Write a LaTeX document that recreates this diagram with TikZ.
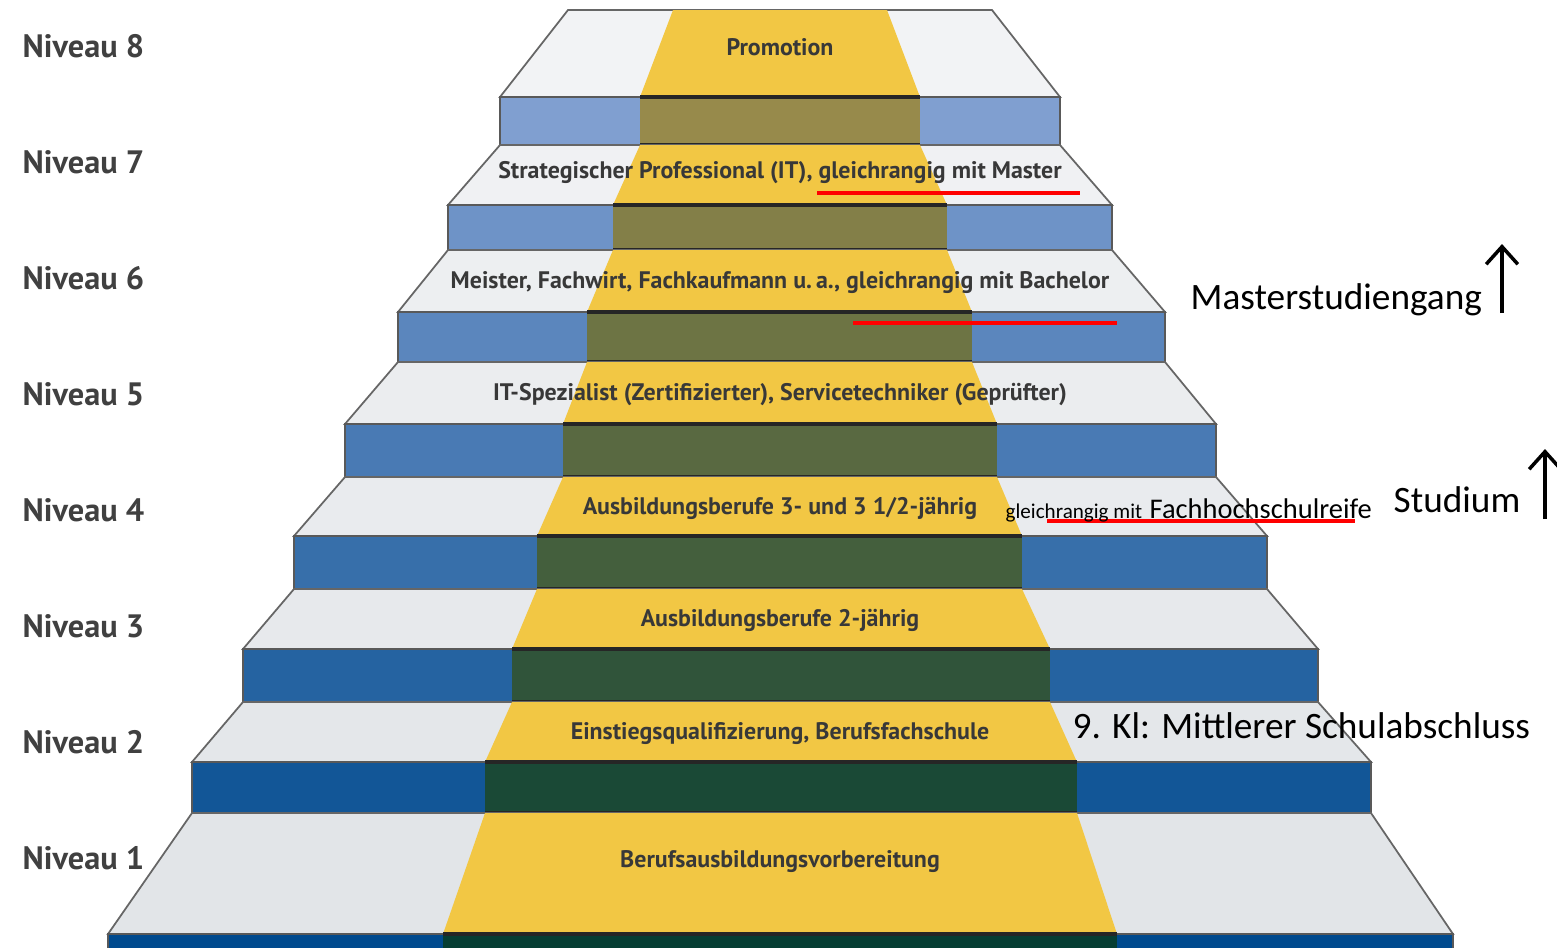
\documentclass[tikz,border=0pt]{standalone}
\usepackage{fontspec}
\usetikzlibrary{arrows.meta}
\newfontfamily\stepfont{PT Sans}
\newfontfamily\notefont{Carlito}
\definecolor{treadtop}{HTML}{F2F3F5}
\definecolor{treadbot}{HTML}{E2E5E8}
\definecolor{bandyellow}{HTML}{F2C744}
\definecolor{bluetop}{HTML}{809FD0}
\definecolor{bluebot}{HTML}{004A8E}
\definecolor{olivetop}{HTML}{978A4B}
\definecolor{olivebot}{HTML}{063E33}
\definecolor{markred}{HTML}{FF0000}

\begin{document}
\begin{tikzpicture}[x=0.01cm,y=-0.01cm]

    \tikzset{
      tread/.style={
        fill=#1,
        draw=black!60,
        line width=0.5pt,
      },
      band/.style={
        fill=bandyellow,
      },
      riser/.style={
        fill=#1,
        draw=black!65,
        line width=0.5pt,
      },
      olive/.style={
        fill=#1,
      },
      oliveedge/.style={
        draw=black!85,
        line width=0.9pt,
      },
      steptext/.style={
        anchor=base,
        inner sep=0pt,
        text=black!78,
        font=\stepfont\bfseries\fontsize{6.8}{8}\selectfont,
      },
      niveau/.style={
        anchor=base west,
        inner sep=0pt,
        text=black!75,
        font=\stepfont\bfseries\fontsize{9.2}{11}\selectfont,
      },
      note/.style={
        anchor=base west,
        inner sep=0pt,
        font=\notefont\fontsize{10.6}{12}\selectfont,
      },
      redline/.style={
        draw=markred,
        line width=1.4pt,
      },
      uparrow/.style={
        draw=black,
        line width=1pt,
        -{Straight Barb[length=5pt,width=9pt]},
      },
    }
    \useasboundingbox (0,0) rectangle (1557,947);
    \clip (0,0) rectangle (1557,947);

	 \filldraw[tread=treadtop] (568,10) -- (992,10) -- (1060,97) -- (500,97) -- cycle;
	 \fill[band] (673,10) -- (887,10) -- (920,97) -- (640,97) -- cycle;
	 \filldraw[riser=bluetop] (500,97) rectangle (1060,145);
	 \fill[olive=olivetop] (640,97) rectangle (920,145);
	 \draw[oliveedge] (640,97) -- (920,97) (640,145) -- (920,145);

	 \filldraw[tread=treadbot!14!treadtop] (500,145) -- (1060,145) -- (1112,205) -- (448,205) -- cycle;
	 \fill[band] (640,145) -- (920,145) -- (947,205) -- (613,205) -- cycle;
	 \filldraw[riser=bluebot!14!bluetop] (448,205) rectangle (1112,250);
	 \fill[olive=olivebot!14!olivetop] (613,205) rectangle (947,250);
	 \draw[oliveedge] (613,205) -- (947,205) (613,250) -- (947,250);

	 \filldraw[tread=treadbot!29!treadtop] (448,250) -- (1112,250) -- (1165,312) -- (398,312) -- cycle;
	 \fill[band] (613,250) -- (947,250) -- (972,312) -- (587,312) -- cycle;
	 \filldraw[riser=bluebot!29!bluetop] (398,312) rectangle (1165,362);
	 \fill[olive=olivebot!29!olivetop] (587,312) rectangle (972,362);
	 \draw[oliveedge] (587,312) -- (972,312) (587,362) -- (972,362);

	 \filldraw[tread=treadbot!43!treadtop] (398,362) -- (1165,362) -- (1216,424) -- (345,424) -- cycle;
	 \fill[band] (587,362) -- (972,362) -- (997,424) -- (563,424) -- cycle;
	 \filldraw[riser=bluebot!43!bluetop] (345,424) rectangle (1216,477);
	 \fill[olive=olivebot!43!olivetop] (563,424) rectangle (997,477);
	 \draw[oliveedge] (563,424) -- (997,424) (563,477) -- (997,477);

	 \filldraw[tread=treadbot!57!treadtop] (345,477) -- (1216,477) -- (1267,536) -- (294,536) -- cycle;
	 \fill[band] (563,477) -- (997,477) -- (1022,536) -- (537,536) -- cycle;
	 \filldraw[riser=bluebot!57!bluetop] (294,536) rectangle (1267,589);
	 \fill[olive=olivebot!57!olivetop] (537,536) rectangle (1022,589);
	 \draw[oliveedge] (537,536) -- (1022,536) (537,589) -- (1022,589);

	 \filldraw[tread=treadbot!71!treadtop] (294,589) -- (1267,589) -- (1318,649) -- (243,649) -- cycle;
	 \fill[band] (537,589) -- (1022,589) -- (1050,649) -- (512,649) -- cycle;
	 \filldraw[riser=bluebot!71!bluetop] (243,649) rectangle (1318,702);
	 \fill[olive=olivebot!71!olivetop] (512,649) rectangle (1050,702);
	 \draw[oliveedge] (512,649) -- (1050,649) (512,702) -- (1050,702);

	 \filldraw[tread=treadbot!86!treadtop] (243,702) -- (1318,702) -- (1371,762) -- (192,762) -- cycle;
	 \fill[band] (512,702) -- (1050,702) -- (1077,762) -- (485,762) -- cycle;
	 \filldraw[riser=bluebot!86!bluetop] (192,762) rectangle (1371,813);
	 \fill[olive=olivebot!86!olivetop] (485,762) rectangle (1077,813);
	 \draw[oliveedge] (485,762) -- (1077,762) (485,813) -- (1077,813);

	 \filldraw[tread=treadbot] (192,813) -- (1371,813) -- (1453,934) -- (108,934) -- cycle;
	 \fill[band] (485,813) -- (1077,813) -- (1117,934) -- (443,934) -- cycle;
	 \filldraw[riser=bluebot] (108,934) rectangle (1453,990);
	 \fill[olive=olivebot] (443,934) rectangle (1117,990);
	 \draw[oliveedge] (443,934) -- (1117,934);

	 \node[niveau] (niv8) at (22,57) {Niveau 8};
	 \node[niveau] (niv7) at (22,173) {Niveau 7};
	 \node[niveau] (niv6) at (22,289) {Niveau 6};
	 \node[niveau] (niv5) at (22,405) {Niveau 5};
	 \node[niveau] (niv4) at (22,521) {Niveau 4};
	 \node[niveau] (niv3) at (22,637) {Niveau 3};
	 \node[niveau] (niv2) at (22,753) {Niveau 2};
	 \node[niveau] (niv1) at (22,869) {Niveau 1};

	 \node[steptext] (promo) at (780,55) {Promotion};
	 \node[steptext] (stratpro) at (780,178) {Strategischer Professional (IT), gleichrangig mit Master};
	 \node[steptext] (meister) at (780,288) {Meister, Fachwirt, Fachkaufmann u.\,a., gleichrangig mit Bachelor};
	 \node[steptext] (itspez) at (780,400) {IT-Spezialist (Zertifizierter), Servicetechniker (Geprüfter)};
	 \node[steptext] (ausbdrei) at (780,514) {Ausbildungsberufe 3- und 3 1/2-jährig};
	 \node[steptext] (ausbzwei) at (780,626) {Ausbildungsberufe 2-jährig};
	 \node[steptext] (einstieg) at (780,739) {Einstiegsqualifizierung, Berufsfachschule};
	 \node[steptext] (berufvor) at (780,867) {Berufsausbildungsvorbereitung};

	 \draw[redline] (817,193) -- (1080,193);
	 \draw[redline] (853,323) -- (1117,323);
	 \draw[redline] (1047,521) -- (1355,521);

	 \node[note] (master) at (1190,309) {Masterstudiengang};
	 \node[note] (studium) at (1393,512) {Studium};
	 \node[note, font=\notefont\fontsize{6}{7}\selectfont] (gleich) at (1005,518) {gleichrangig mit};
	 \node[note, font=\notefont\fontsize{8.1}{10}\selectfont] (fhreife) at (1149,518) {Fachhochschulreife};
	 \node[note] (mittlerer) at (1072,738) {9. Kl: Mittlerer Schulabschluss};

	 \coordinate (masterlo) at (1502,313);
	 \coordinate (masterhi) at (1502,244);
	 \coordinate (studiumlo) at (1545,519);
	 \coordinate (studiumhi) at (1545,449);
	 \draw[uparrow] (masterlo) -- (masterhi);
	 \draw[uparrow] (studiumlo) -- (studiumhi);

\end{tikzpicture}
\end{document}
